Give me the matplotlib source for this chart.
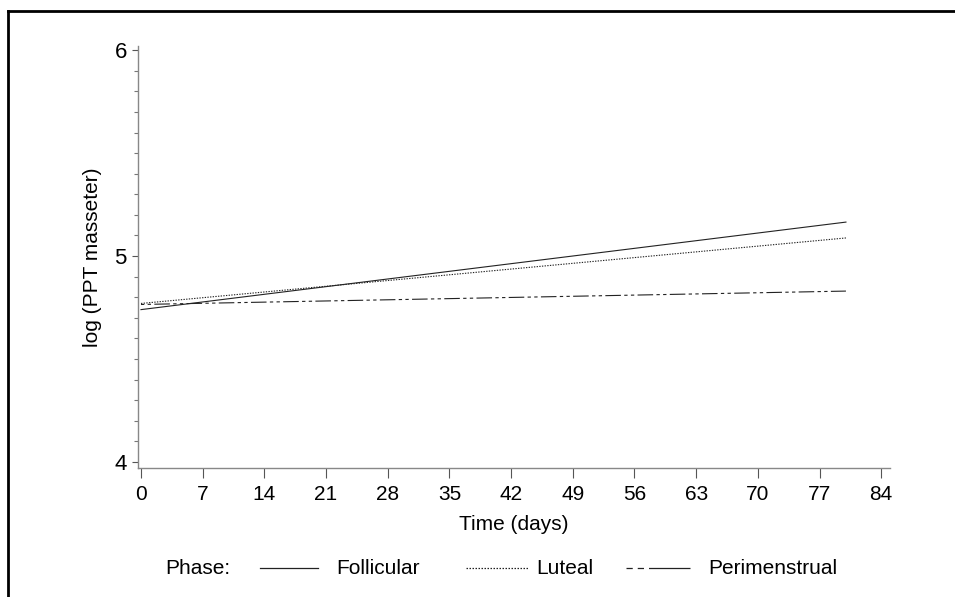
import matplotlib
matplotlib.use("Agg")
import matplotlib.pyplot as plt
from matplotlib.lines import Line2D
import numpy as np

plt.rcParams['font.family'] = ['Liberation Sans', 'DejaVu Sans']

# Data
days = [0, 80]
follicular = [4.74, 5.165]
luteal = [4.77, 5.088]
perimenstrual = [4.765, 4.83]
xticks = [0, 7, 14, 21, 28, 35, 42, 49, 56, 63, 70, 77, 84]
yticks = [4, 5, 6]
phases = ["Follicular", "Luteal", "Perimenstrual"]

W, H = 955, 597
fig = plt.figure(figsize=(W / 100, H / 100), dpi=100)

FS = 15

# axes placement in pixels
L, R, B, T = 138, 890, 468, 46
ax = fig.add_axes([L / W, 1 - B / H, (R - L) / W, (B - T) / H])

ax.set_xlim(-0.34, 85.0)
ax.set_ylim(3.971, 6.02)

lc = '#222222'
styles = {
    "Follicular": dict(linestyle='-'),
    "Luteal": dict(linestyle=(0, (1.2, 1.2))),
    "Perimenstrual": dict(linestyle=(0, (3, 3, 3, 3, 14, 3))),
}
ax.plot(days, follicular, color=lc, lw=0.8, **styles["Follicular"])
ax.plot(days, luteal, color=lc, lw=0.8, **styles["Luteal"])
ax.plot(days, perimenstrual, color=lc, lw=0.8, **styles["Perimenstrual"])

for s in ['top', 'right']:
    ax.spines[s].set_visible(False)
ax.spines['left'].set_color('#888888')
ax.spines['bottom'].set_color('#888888')
ax.spines['left'].set_linewidth(1.0)
ax.spines['bottom'].set_linewidth(1.0)

ax.set_xticks(xticks)
ax.set_xticklabels([str(t) for t in xticks], fontsize=FS)
ax.set_yticks(yticks)
ax.set_yticklabels([str(t) for t in yticks], fontsize=FS + 1)
ax.set_yticks(np.arange(40, 61) / 10.0, minor=True)
ax.tick_params(axis='x', which='major', length=7, width=0.8, color='#555555', pad=5)
ax.tick_params(axis='y', which='major', length=4, width=0.8, color='#555555', pad=4)
ax.tick_params(axis='y', which='minor', length=3, width=0.8, color='#777777')

ax.set_xlabel("Time (days)", fontsize=FS, labelpad=8)
ax.set_ylabel("log (PPT masseter)", fontsize=FS, labelpad=9)

# legend drawn manually
ly = 1 - 568 / H
fig.text(165 / W, ly, "Phase:", fontsize=FS, va='center', ha='left')
legend_items = [
    ("Follicular", 260, 318, 336),
    ("Luteal", 466, 528, 536),
    ("Perimenstrual", 626, 690, 708),
]
leg_styles = {
    "Follicular": dict(linestyle='-'),
    "Luteal": dict(linestyle=(0, (1.2, 1.2))),
    "Perimenstrual": dict(linestyle=(0, (5, 4, 5, 4, 40, 0))),
}
for name, x0, x1, tx in legend_items:
    fig.add_artist(Line2D([x0 / W, x1 / W], [ly, ly], color=lc, lw=0.9,
                          transform=fig.transFigure, **leg_styles[name]))
    fig.text(tx / W, ly, name, fontsize=FS, va='center', ha='left')

# figure frame (top and left)
fig.add_artist(Line2D([8 / W, 8 / W], [0, 1 - 11 / H], color='black', lw=2,
                      transform=fig.transFigure))
fig.add_artist(Line2D([8 / W, 1], [1 - 11 / H, 1 - 11 / H], color='black', lw=2,
                      transform=fig.transFigure))

fig.savefig("out.png", dpi=100)
